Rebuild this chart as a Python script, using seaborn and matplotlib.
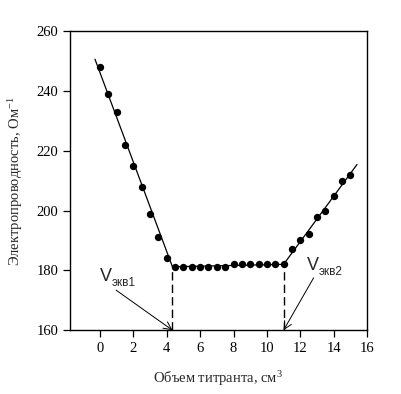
import numpy as np
import pandas as pd
import seaborn as sns
import matplotlib.pyplot as plt

# Volume of titrant (cm3) and conductivity readings
volume = [0, 0.5, 1, 1.5, 2, 2.5, 3, 3.5, 4,
          4.5, 5, 5.5, 6, 6.5, 7, 7.5, 8, 8.5, 9, 9.5, 10, 10.5, 11,
          11.5, 12, 12.5, 13, 13.5, 14, 14.5, 15]
conductivity = [248, 239, 233, 222, 215, 208, 199, 191, 184,
                181, 181, 181, 181, 181, 181, 181, 182, 182, 182, 182, 182, 182, 182,
                187, 190, 192, 198, 200, 205, 210, 212]

# Hand-drawn trend lines
fit_x = [-0.3, 4.34, 11.0, 15.4]
fit_y = [250.6, 181.2, 182.0, 215.4]

# Equivalence points
v_eq = [4.34, 11.0]
v_eq_y = [181.2, 182.0]
eq_labels = ["экв1", "экв2"]
label_pos = [(0.0, 178.0), (12.4, 181.5)]
arrow_start = [(0.96, 173.4), (12.8, 177.5)]

df = pd.DataFrame({"volume": volume, "conductivity": conductivity})

sns.set_style("ticks")
plt.rcParams['font.family'] = ['Liberation Serif', 'DejaVu Serif']
plt.rcParams['mathtext.fontset'] = 'custom'
plt.rcParams['mathtext.rm'] = 'Liberation Serif'
plt.rcParams['mathtext.it'] = 'Liberation Serif:italic'

fig = plt.figure(figsize=(4.02, 3.94), dpi=100)
ax = fig.add_axes([0.174, 0.162, 0.739, 0.759])

ax.plot(fit_x, fit_y, color="black", lw=0.9, zorder=2)
sns.scatterplot(data=df, x="volume", y="conductivity", color="black",
                s=28, edgecolor="black", linewidth=0, ax=ax, zorder=3)

for x, y, lab, (tx, ty), (ax0, ay0) in zip(v_eq, v_eq_y, eq_labels, label_pos, arrow_start):
    ax.plot([x, x], [160, y], color="black", lw=1.0, ls=(0, (6, 3)), zorder=2)
    ax.annotate("", xy=(x, 160), xytext=(ax0, ay0),
                arrowprops=dict(arrowstyle="->", color="black", lw=0.7,
                                mutation_scale=14, shrinkA=0, shrinkB=0))
    ax.text(tx, ty, "V", fontsize=13, family="Liberation Sans", va="center", ha="left")
    ax.text(tx + 0.72, ty - 2.2, lab, fontsize=8.5, family="Liberation Sans",
            va="center", ha="left")

ax.set_xlim(-1.8, 16)
ax.set_ylim(160, 260)
ax.set_xticks(range(0, 17, 2))
ax.set_yticks(range(160, 261, 20))
ax.tick_params(direction="out", length=5, width=0.9, labelsize=10.5, colors="black")
for sp in ax.spines.values():
    sp.set_visible(True)
    sp.set_linewidth(1.0)
    sp.set_color("black")

ax.set_xlabel("Объем титранта, см$^3$", fontsize=10.5, labelpad=10)
ax.set_ylabel("Электропроводность, Ом$^{-1}$", fontsize=10.5, labelpad=8)

fig.savefig("out.png", dpi=100)
